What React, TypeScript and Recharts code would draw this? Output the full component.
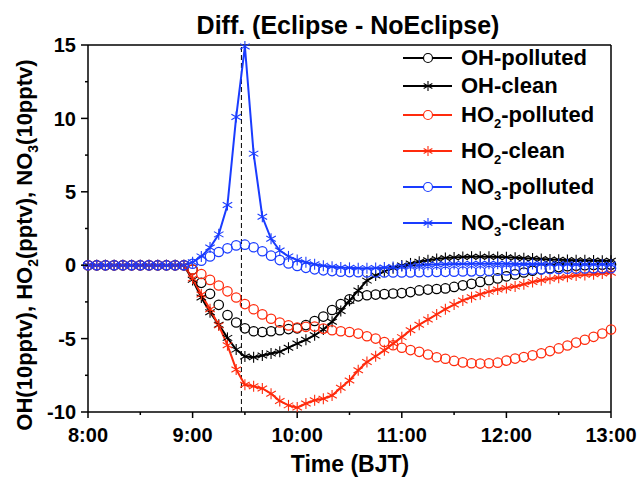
import {
  LineChart,
  Line,
  XAxis,
  YAxis,
  Legend,
  ReferenceLine,
} from "recharts";

// minutes after 8:00 BJT
const times = [
  0, 5, 10, 15, 20, 25, 30, 35, 40, 45, 50, 55,
  60, 65, 70, 75, 80, 85, 90, 95, 100, 105, 110, 115,
  120, 125, 130, 135, 140, 145, 150, 155, 160, 165, 170, 175,
  180, 185, 190, 195, 200, 205, 210, 215, 220, 225, 230, 235,
  240, 245, 250, 255, 260, 265, 270, 275, 280, 285, 290, 295, 300,
];

const ohPolluted = [
  0, 0, 0, 0, 0, 0, 0, 0, 0, 0, 0, 0,
  -0.3, -1.2, -1.95, -2.7, -3.4, -3.9, -4.3, -4.5, -4.55, -4.5, -4.43, -4.35,
  -4.3, -4.08, -3.8, -3.5, -3.05, -2.65, -2.32, -2.12, -2.05, -2.0, -1.97, -1.93,
  -1.9, -1.83, -1.72, -1.66, -1.62, -1.58, -1.48, -1.37, -1.27, -1.14, -1.02, -0.9,
  -0.76, -0.63, -0.5, -0.38, -0.28, -0.2, -0.13, -0.07, -0.03, 0.0, 0.02, 0.03, 0.04,
];

const ohClean = [
  0, 0, 0, 0, 0, 0, 0, 0, 0, 0, 0, 0,
  -1.0, -2.2, -3.2, -4.05, -4.95, -5.75, -6.22, -6.27, -6.15, -6.02, -5.9, -5.62,
  -5.34, -5.08, -4.77, -4.38, -3.85, -3.12, -2.42, -1.72, -1.05, -0.7, -0.42, -0.2,
  -0.02, 0.12, 0.24, 0.34, 0.42, 0.49, 0.53, 0.56, 0.58, 0.58, 0.57, 0.56,
  0.54, 0.51, 0.48, 0.45, 0.42, 0.39, 0.37, 0.35, 0.34, 0.33, 0.32, 0.31, 0.3,
];

const ho2Polluted = [
  0, 0, 0, 0, 0, 0, 0, 0, 0, 0, 0, 0,
  -0.3, -0.6, -1.0, -1.38, -1.78, -2.2, -2.65, -3.0, -3.35, -3.65, -3.9, -4.1,
  -4.25, -4.2, -4.18, -4.32, -4.43, -4.5, -4.55, -4.66, -4.84, -5.0, -5.23, -5.45,
  -5.62, -5.78, -5.9, -6.08, -6.27, -6.37, -6.52, -6.62, -6.68, -6.7, -6.68, -6.64,
  -6.5, -6.36, -6.26, -6.14, -6.0, -5.85, -5.67, -5.47, -5.27, -5.08, -4.88, -4.65, -4.38,
];

const ho2Clean = [
  0, 0, 0, 0, 0, 0, 0, 0, 0, 0, 0, 0,
  -0.9, -2.0, -3.0, -4.1, -5.45, -7.1, -8.15, -8.25, -8.4, -8.75, -9.25, -9.55,
  -9.7, -9.42, -9.2, -9.1, -8.88, -8.35, -7.85, -7.16, -6.6, -6.2, -5.8, -5.34,
  -4.9, -4.43, -4.05, -3.7, -3.35, -3.0, -2.68, -2.4, -2.18, -1.98, -1.8, -1.65,
  -1.55, -1.45, -1.3, -1.15, -1.03, -0.93, -0.86, -0.78, -0.7, -0.66, -0.62, -0.57, -0.52,
];

const no3Polluted = [
  0, 0, 0, 0, 0, 0, 0, 0, 0, 0, 0, 0,
  0.1, 0.3, 0.6, 0.9, 1.15, 1.35, 1.4, 1.22, 0.95, 0.65, 0.35, 0.12,
  -0.05, -0.18, -0.28, -0.35, -0.4, -0.44, -0.47, -0.48, -0.5, -0.5, -0.5, -0.5,
  -0.5, -0.49, -0.48, -0.47, -0.46, -0.45, -0.44, -0.43, -0.42, -0.41, -0.4, -0.38,
  -0.36, -0.34, -0.32, -0.3, -0.28, -0.26, -0.25, -0.24, -0.23, -0.22, -0.21, -0.2, -0.2,
];

const no3Clean = [
  0, 0, 0, 0, 0, 0, 0, 0, 0, 0, 0, 0,
  0.2, 0.6, 1.2, 2.1, 4.1, 10.1, 14.9, 7.6, 3.3, 1.8, 1.0, 0.6,
  0.35, 0.2, 0.07, -0.03, -0.1, -0.15, -0.18, -0.2, -0.2, -0.19, -0.16, -0.12,
  -0.07, -0.03, 0.0, 0.03, 0.05, 0.07, 0.08, 0.09, 0.1, 0.1, 0.1, 0.1,
  0.1, 0.09, 0.09, 0.08, 0.08, 0.07, 0.06, 0.06, 0.05, 0.05, 0.04, 0.04, 0.03,
];

const xTicks = [0, 30, 60, 90, 120, 150, 180, 210, 240, 270, 300];
const yTicks = [-10, -7.5, -5, -2.5, 0, 2.5, 5, 7.5, 10, 12.5, 15];
const eclipseMax = 88;

const BLACK = "#000000";
const RED = "#ff2b0d";
const BLUE = "#1a3cff";
const FONT = "'Liberation Sans', Arial, sans-serif";

const data = times.map((t, i) => ({
  t,
  ohP: ohPolluted[i],
  ohC: ohClean[i],
  ho2P: ho2Polluted[i],
  ho2C: ho2Clean[i],
  no3P: no3Polluted[i],
  no3C: no3Clean[i],
}));

const legendItems = [
  { name: "OH", sub: "", rest: "-polluted", color: BLACK, star: false },
  { name: "OH", sub: "", rest: "-clean", color: BLACK, star: true },
  { name: "HO", sub: "2", rest: "-polluted", color: RED, star: false },
  { name: "HO", sub: "2", rest: "-clean", color: RED, star: true },
  { name: "NO", sub: "3", rest: "-polluted", color: BLUE, star: false },
  { name: "NO", sub: "3", rest: "-clean", color: BLUE, star: true },
];
const legendRowY = [18, 46, 75, 111, 147, 183];

function star(cx: number, cy: number, color: string, r = 5.5, key?: any) {
  const dx = r * Math.cos(Math.PI / 6);
  const dy = r * Math.sin(Math.PI / 6);
  return (
    <g key={key} stroke={color} strokeWidth={1.1}>
      <line x1={cx} y1={cy - r} x2={cx} y2={cy + r} />
      <line x1={cx - dx} y1={cy - dy} x2={cx + dx} y2={cy + dy} />
      <line x1={cx - dx} y1={cy + dy} x2={cx + dx} y2={cy - dy} />
    </g>
  );
}

const starDot = (color: string) => (props: any) => {
  const { cx, cy, index } = props;
  if (cx == null || cy == null) return <g key={index} />;
  return star(cx, cy, color, 5.5, index);
};

const circleDot = (color: string) => (props: any) => {
  const { cx, cy, index } = props;
  if (cx == null || cy == null) return <g key={index} />;
  return <circle key={index} cx={cx} cy={cy} r={4.7} fill="none" stroke={color} strokeWidth={1.25} />;
};

const XTick = (props: any) => {
  const { x, y, payload } = props;
  const major = payload.value % 60 === 0;
  return (
    <g>
      <line x1={x} y1={y} x2={x} y2={y + (major ? 6 : 3)} stroke={BLACK} strokeWidth={1.5} />
      {major && (
        <text x={x} y={y + 30} textAnchor="middle" fontSize={20} fontWeight="bold" fontFamily={FONT} fill={BLACK}>
          {`${8 + payload.value / 60}:00`}
        </text>
      )}
    </g>
  );
};

const YTick = (props: any) => {
  const { x, y, payload } = props;
  const major = payload.value % 5 === 0;
  return (
    <g>
      <line x1={x} y1={y} x2={x - (major ? 7 : 3)} y2={y} stroke={BLACK} strokeWidth={1.5} />
      {major && (
        <text x={x - 12} y={y} dy="0.36em" textAnchor="end" fontSize={20} fontWeight="bold" fontFamily={FONT} fill={BLACK}>
          {payload.value}
        </text>
      )}
    </g>
  );
};

const renderLegend = () => (
  <svg width={240} height={200}>
    {legendItems.map((it, i) => {
      const y = legendRowY[i];
      return (
        <g key={i}>
          <line x1={8} y1={y} x2={57} y2={y} stroke={it.color} strokeWidth={2} />
          {it.star
            ? star(33, y, it.color, 5)
            : <circle cx={33} cy={y} r={4.5} fill="#fff" stroke={it.color} strokeWidth={1.2} />}
          <text x={66} y={y + 7} fontSize={22} fontWeight="bold" fontFamily={FONT} fill={BLACK}>
            {it.name}
            {it.sub && <tspan fontSize={13} dy={6}>{it.sub}</tspan>}
            <tspan dy={it.sub ? -6 : 0}>{it.rest}</tspan>
          </text>
        </g>
      );
    })}
  </svg>
);

export default function App() {
  return (
    <div style={{ position: "absolute", left: 0, top: 0, width: 641, height: 478, background: "#fff" }}>
      <LineChart width={641} height={478} data={data} margin={{ top: 45, right: 30, bottom: 26, left: 28 }}>
        <XAxis
          dataKey="t"
          type="number"
          domain={[0, 300]}
          ticks={xTicks}
          interval={0}
          height={40}
          tickSize={0}
          tickMargin={0}
          tickLine={false}
          tick={<XTick />}
          axisLine={{ stroke: BLACK, strokeWidth: 1.5 }}
        />
        <YAxis
          type="number"
          domain={[-10, 15]}
          ticks={yTicks}
          interval={0}
          width={60}
          tickSize={0}
          tickMargin={0}
          tickLine={false}
          tick={<YTick />}
          axisLine={{ stroke: BLACK, strokeWidth: 1.5 }}
        />
        <ReferenceLine y={15} stroke={BLACK} strokeWidth={1.5} />
        <ReferenceLine x={300} stroke={BLACK} strokeWidth={1.5} />
        <ReferenceLine x={eclipseMax} stroke={BLACK} strokeWidth={1} strokeDasharray="5 3" />
        <Line dataKey="ohP" stroke="none" dot={circleDot(BLACK)} activeDot={false} isAnimationActive={false} />
        <Line dataKey="ohC" stroke={BLACK} strokeWidth={2} dot={starDot(BLACK)} activeDot={false} isAnimationActive={false} />
        <Line dataKey="ho2P" stroke="none" dot={circleDot(RED)} activeDot={false} isAnimationActive={false} />
        <Line dataKey="ho2C" stroke={RED} strokeWidth={2} dot={starDot(RED)} activeDot={false} isAnimationActive={false} />
        <Line dataKey="no3P" stroke="none" dot={circleDot(BLUE)} activeDot={false} isAnimationActive={false} />
        <Line dataKey="no3C" stroke={BLUE} strokeWidth={2} dot={starDot(BLUE)} activeDot={false} isAnimationActive={false} />
        <Legend
          layout="vertical"
          align="center"
          verticalAlign="middle"
          content={renderLegend}
          wrapperStyle={{ left: 395, top: 40, width: 240, height: 200 }}
        />
      </LineChart>
      <svg width={641} height={478} style={{ position: "absolute", left: 0, top: 0, pointerEvents: "none" }}>
        <text x={348} y={34} textAnchor="middle" fontSize={25} fontWeight="bold" fontFamily={FONT}>
          Diff. (Eclipse - NoEclipse)
        </text>
        <text x={350} y={472} textAnchor="middle" fontSize={23} fontWeight="bold" fontFamily={FONT}>
          Time (BJT)
        </text>
        <text transform="translate(32,245) rotate(-90)" textAnchor="middle" fontSize={22} fontWeight="bold" fontFamily={FONT}>
          OH(10pptv), HO<tspan fontSize={14} dy={6}>2</tspan>
          <tspan dy={-6}>(pptv), NO</tspan>
          <tspan fontSize={14} dy={6}>3</tspan>
          <tspan dy={-6}>(10pptv)</tspan>
        </text>
      </svg>
    </div>
  );
}
